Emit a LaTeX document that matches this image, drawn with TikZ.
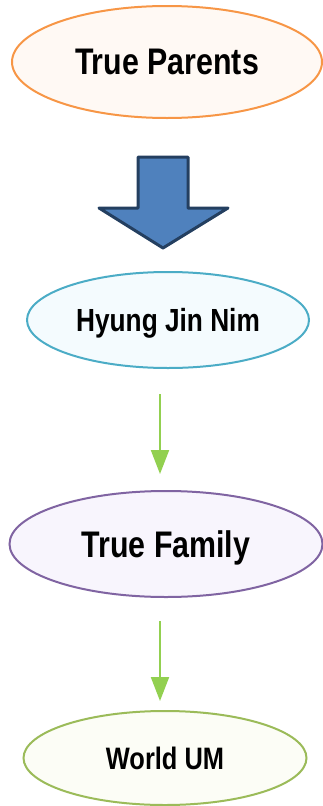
\documentclass[tikz,border=0pt]{standalone}
\usepackage{fontspec}
\setmainfont{Liberation Sans}[FakeStretch=0.82]
\usepackage{xcolor}
\usetikzlibrary{arrows.meta,shapes,positioning}
\definecolor{tporange}{HTML}{F79646}
\definecolor{tpfill}{HTML}{FFF9F4}
\definecolor{hjnedge}{HTML}{4BACC6}
\definecolor{hjnfill}{HTML}{F4FBFE}
\definecolor{famedge}{HTML}{8064A2}
\definecolor{famfill}{HTML}{F8F5FD}
\definecolor{umedge}{HTML}{9BBB59}
\definecolor{umfill}{HTML}{FCFDF6}
\definecolor{arrowgreen}{HTML}{92D050}
\definecolor{arrowblue}{HTML}{4F81BD}
\definecolor{arrowedge}{HTML}{243F60}

\begin{document}
\begin{tikzpicture}[x=1pt,y=-1pt,
every node/.style = {ellipse, text=black, inner sep=0pt,
    text depth=0pt, line width=2pt},
bubble/.style={font=\bfseries\fontsize{#1}{#1}\selectfont},
flow/.style={draw=arrowgreen, line width=2pt,
    -{Triangle[width=18pt,length=24pt]}},
bigarrow/.style={fill=arrowblue, draw=arrowedge, line width=3pt,
    line join=round}]
\useasboundingbox (0,0) rectangle (323,806);
\node [bubble=37, draw=tporange, fill=tpfill, minimum width=310pt,
    minimum height=112pt] (parents) at (167,62) {True Parents};
\node [bubble=32, draw=hjnedge, fill=hjnfill, minimum width=282pt,
    minimum height=96pt] (hjn) at (168,320) {Hyung Jin Nim};
\node [bubble=37, draw=famedge, fill=famfill, minimum width=313pt,
    minimum height=106pt] (family) at (166,544) {True Family};
\node [bubble=31, draw=umedge, fill=umfill, minimum width=283pt,
    minimum height=94pt] (world) at (165,758) {World UM};
% block arrow under the top bubble
\draw [bigarrow] (138,157) -- (188,157) -- (188,208) -- (228,208)
    -- (163,248) -- (99,208) -- (138,208) -- cycle;
\draw [flow] ([xshift=-8pt,yshift=-25pt]hjn.south)
    -- ([xshift=-6pt,yshift=16pt]family.north);
\draw [flow] ([xshift=-6pt,yshift=-23pt]family.south)
    -- ([xshift=-5pt,yshift=9pt]world.north);
\end{tikzpicture}
\end{document}
